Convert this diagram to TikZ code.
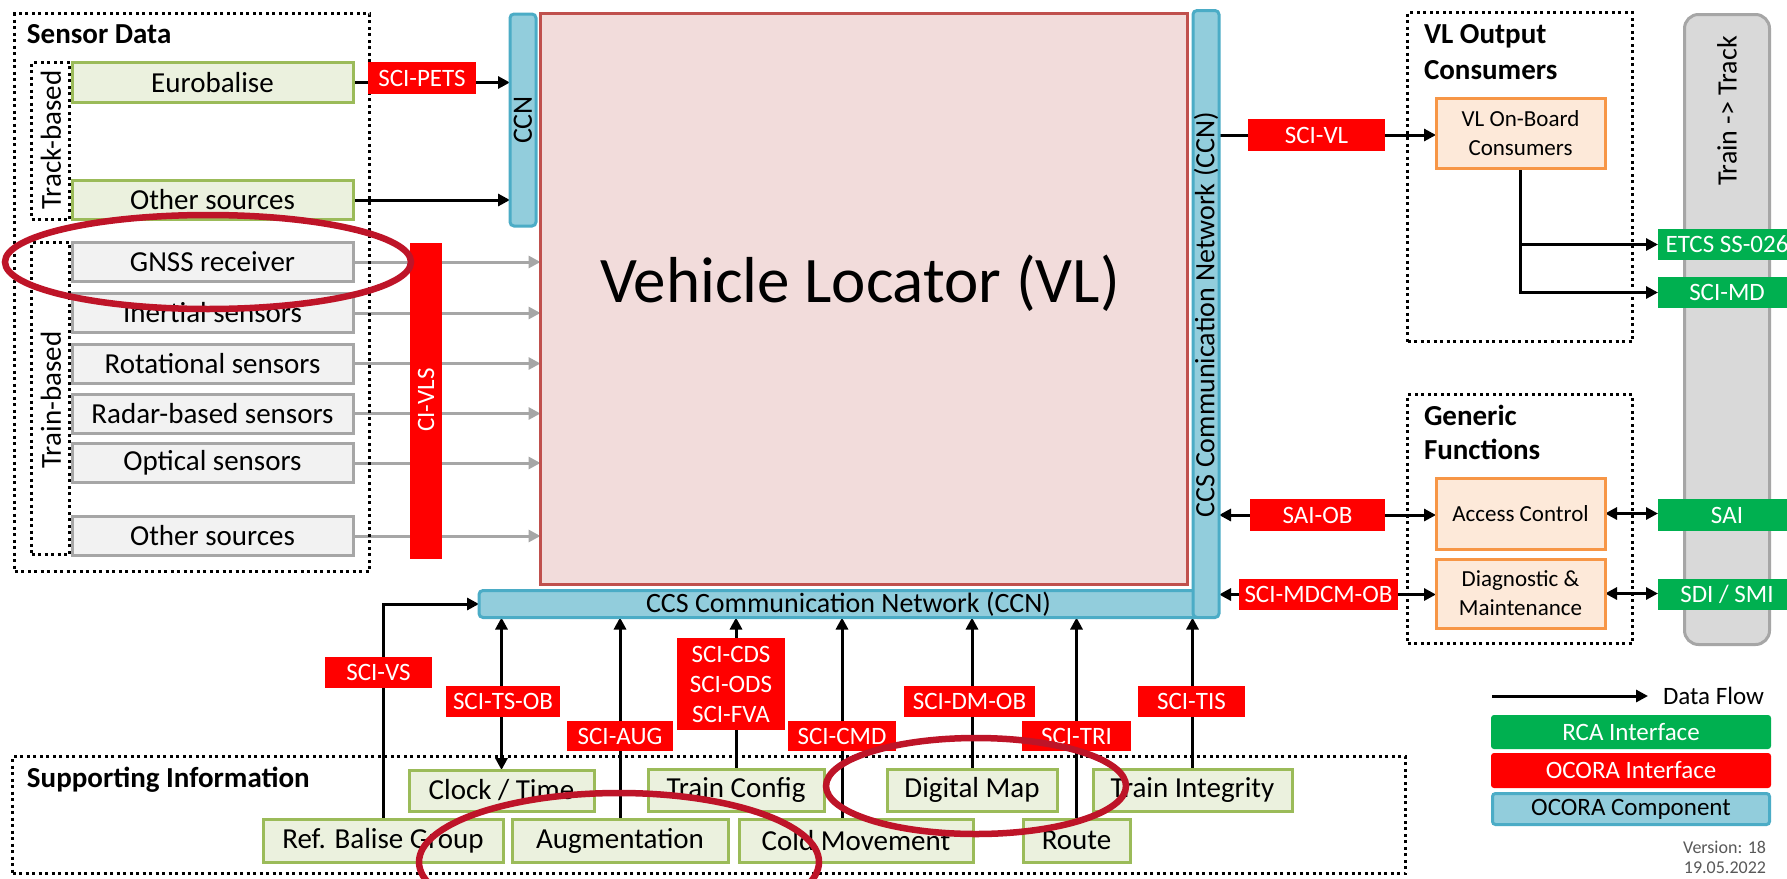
\documentclass[tikz,border=0pt]{standalone}
\usepackage{fontspec}
\setmainfont{Carlito}
\usetikzlibrary{arrows.meta,calc}
\pgfdeclarelayer{bg}
\pgfsetlayers{bg,main}
\definecolor{gB}{HTML}{9BBB59}
\definecolor{gF}{HTML}{EBF1DE}
\definecolor{sB}{HTML}{A6A6A6}
\definecolor{sF}{HTML}{F2F2F2}
\definecolor{ocred}{HTML}{FF0000}
\definecolor{rcag}{HTML}{00B050}
\definecolor{cF}{HTML}{92CDDC}
\definecolor{cB}{HTML}{4BACC6}
\definecolor{vlF}{HTML}{F2DCDB}
\definecolor{vlB}{HTML}{C0504D}
\definecolor{oB}{HTML}{F79646}
\definecolor{oF}{HTML}{FDE9D9}
\definecolor{ttF}{HTML}{D9D9D9}
\definecolor{ttB}{HTML}{A6A6A6}
\definecolor{annotc}{HTML}{BE1428}
\definecolor{verc}{HTML}{595959}
\newcommand\fsBox{\fontsize{29}{30}\selectfont}
\newcommand\fsLab{\fontsize{25}{30}\selectfont}
\newcommand\fsTitle{\bfseries\fontsize{29}{36}\selectfont}
\newcommand\fsOr{\fontsize{23}{29}\selectfont}
\newcommand\fsVL{\fontsize{65}{70}\selectfont}
\newcommand\fsCCN{\fontsize{28}{30}\selectfont}
\newcommand\fsVer{\fontsize{18}{20}\selectfont}
\tikzset{
  every node/.style={inner sep=0pt, outer sep=0pt},
  gbox/.style={draw=gB, fill=gF, line width=3pt, font=\fsBox},
  sbox/.style={draw=sB, fill=sF, line width=3pt, font=\fsBox, minimum width=281pt, minimum height=39pt},
  rlab/.style={fill=ocred, text=white, font=\fsLab, minimum height=31pt},
  glab/.style={fill=rcag, text=white, font=\fsLab, minimum height=31pt},
  obox/.style={draw=oB, fill=oF, line width=3pt, font=\fsOr, align=center, minimum width=169pt},
  ccnbar/.style={draw=cB, fill=cF, line width=3pt, rounded corners=4pt},
  dotbox/.style={draw=black, line width=3pt, dash pattern=on 3pt off 3.5pt},
  arr/.style={line width=3pt, -{Triangle[length=12pt,width=12pt]}},
  darr/.style={line width=3pt, {Triangle[length=12pt,width=12pt]}-{Triangle[length=12pt,width=12pt]}},
  garr/.style={line width=3pt, draw=sB, -{Triangle[length=12pt,width=12pt]}},
  annot/.style={draw=annotc, line width=6.5pt},
  ttl/.style={font=\fsTitle, anchor=base west},
}
\begin{document}
\begin{tikzpicture}[x=1pt,y=-1pt]
\clip (0,0) rectangle (1787,878);
\begin{pgfonlayer}{bg}
\fill[white] (0,0) rectangle (1787,878);
\end{pgfonlayer}

% dotted group boxes
\node[dotbox, minimum width=355pt, minimum height=558pt] (sensbox) at (192,292.5) {};
\node[dotbox, minimum width=38pt, minimum height=157pt] (trkbox) at (50.5,141) {};
\node[dotbox, minimum width=38pt, minimum height=312pt] (trnbox) at (50.5,398.5) {};
\node[dotbox, minimum width=225pt, minimum height=329pt] (vloutbox) at (1520,177) {};
\node[dotbox, minimum width=225pt, minimum height=249pt] (genbox) at (1520,519) {};
\node[dotbox, minimum width=1393pt, minimum height=117pt] (supbox) at (709,815) {};

% titles
\node[ttl] (tsens) at (27,43) {Sensor Data};
\node[ttl] (tvlo1) at (1424,43) {VL Output};
\node[ttl] (tvlo2) at (1424,79) {Consumers};
\node[ttl] (tgen1) at (1424,425) {Generic};
\node[ttl] (tgen2) at (1424,459) {Functions};
\node[ttl] (tsup) at (27,787) {Supporting Information};
\node[font=\fsBox, rotate=90] (ttrk) at (51,140) {Track-based};
\node[font=\fsBox, rotate=90] (ttrn) at (51,400) {Train-based};

% Train -> Track
\node[draw=ttB, fill=ttF, line width=3pt, rounded corners=14pt, minimum width=85pt, minimum height=630pt] (t2t) at (1727,329.5) {};
\node[font=\fsCCN, rotate=90] (t2ttxt) at (1727,111) {Train -> Track};

% sensor boxes
\node[gbox, minimum width=281pt, minimum height=40pt] (eurob) at (212.5,82.5) {Eurobalise};
\node[gbox, minimum width=281pt, minimum height=39pt] (othtrk) at (212.5,200) {Other sources};
\node[sbox] (gnss) at (212.5,262) {GNSS receiver};
\node[sbox] (inert) at (212.5,313) {Inertial sensors};
\node[sbox] (rot) at (212.5,363.5) {Rotational sensors};
\node[sbox] (radar) at (212.5,413.5) {Radar-based sensors};
\node[sbox] (opt) at (212.5,463) {Optical sensors};
\node[sbox] (othtrn) at (212.5,536) {Other sources};

% VL and CCN
\node[draw=vlB, fill=vlF, line width=3pt, minimum width=647pt, minimum height=571pt] (vl) at (864,299) {};
\node[font=\fsVL, anchor=base] (vltxt) at (860,302) {Vehicle Locator (VL)};
\node[ccnbar, minimum width=26pt, minimum height=212pt] (ccnl) at (523,120) {};
\node[font=\fsCCN, rotate=90] (ccnltxt) at (523,120) {CCN};
\node[ccnbar, minimum width=720pt, minimum height=27pt] (hccn) at (839,604) {};
\node[font=\fsCCN] (hccntxt) at (848.5,604) {CCS Communication Network (CCN)};
\node[ccnbar, minimum width=26pt, minimum height=607pt] (rccn) at (1206,314) {};
\node[font=\fsCCN, rotate=90] (rccntxt) at (1206,314.5) {CCS Communication Network (CCN)};

% orange boxes
\node[obox, minimum height=70pt] (vlob) at (1520.5,133) {VL On-Board\\Consumers};
\node[obox, minimum height=71pt] (access) at (1520.5,513.5) {Access Control};
\node[obox, minimum height=69pt] (diag) at (1520.5,593.5) {Diagnostic \&\\Maintenance};

% supporting information boxes
\node[gbox, minimum width=185pt, minimum height=41pt] (clock) at (501.5,790.5) {Clock / Time};
\node[gbox, minimum width=176pt, minimum height=42pt] (trconf) at (736,790) {Train Config};
\node[gbox, minimum width=170pt, minimum height=42pt] (digmap) at (972,790) {Digital Map};
\node[gbox, minimum width=199pt, minimum height=42pt] (trint) at (1192.5,790) {Train Integrity};
\node[gbox, minimum width=240pt, minimum height=43pt] (refbal) at (383,840.5) {Ref. Balise Group};
\node[gbox, minimum width=216pt, minimum height=43pt] (augm) at (620,840.5) {Augmentation};
\node[gbox, minimum width=234pt, minimum height=43pt] (cold) at (856,840.5) {Cold Movement};
\node[gbox, minimum width=107pt, minimum height=43pt] (route) at (1076.5,840.5) {Route};

% interface labels (red)
\node[rlab, minimum width=108pt, minimum height=32pt] (scipets) at (422,78) {SCI-PETS};
\node[rlab, minimum width=137pt, minimum height=32pt] (scivl) at (1316.5,135) {SCI-VL};
\node[rlab, minimum width=135pt, minimum height=32pt] (saiob) at (1317.5,515) {SAI-OB};
\node[rlab, minimum width=159pt] (mdcm) at (1318.5,594.5) {SCI-MDCM-OB};
\node[rlab, minimum width=107pt] (scivs) at (378.5,672.5) {SCI-VS};
\node[rlab, minimum width=114pt] (tsob) at (503,701.5) {SCI-TS-OB};
\node[rlab, minimum width=106pt, minimum height=30pt] (aug) at (620,736) {SCI-AUG};
\node[rlab, align=center, minimum width=108pt, minimum height=92pt] (cds) at (731,684) {SCI-CDS\\SCI-ODS\\SCI-FVA};
\node[rlab, minimum width=108pt, minimum height=30pt] (cmd) at (842,736) {SCI-CMD};
\node[rlab, minimum width=131pt] (dmob) at (969.5,701.5) {SCI-DM-OB};
\node[rlab, minimum width=109pt, minimum height=30pt] (tri) at (1076.5,736) {SCI-TRI};
\node[rlab, minimum width=107pt] (tis) at (1191.5,701.5) {SCI-TIS};
\node[rlab, minimum width=32pt, minimum height=316pt] (civls) at (426,401) {};
\node[font=\fsLab, text=white, rotate=90] (civlstxt) at (426,400) {CI-VLS};

% interface labels (green)
\node[glab, minimum width=138pt] (etcs) at (1727,244.5) {ETCS SS-026};
\node[glab, minimum width=138pt] (scimd) at (1727,292.5) {SCI-MD};
\node[glab, minimum width=138pt, minimum height=32pt] (sai) at (1727,515) {SAI};
\node[glab, minimum width=138pt] (sdi) at (1727,594.5) {SDI / SMI};

% legend
\node[font=\fsLab, anchor=west] (dftxt) at (1663,696) {Data Flow};
\coordinate (dfstart) at (1492,696);
\node[glab, minimum width=280pt, minimum height=34pt, rounded corners=3pt] (rca) at (1631,732) {RCA Interface};
\node[rlab, minimum width=280pt, minimum height=35pt, rounded corners=3pt] (ocif) at (1631,770.5) {OCORA Interface};
\node[ccnbar, font=\fsLab, minimum width=277pt, minimum height=31pt, rounded corners=3pt] (occomp) at (1631,809) {OCORA Component};
\node[font=\fsVer, text=verc, anchor=east, align=right] (ver) at (1766,857) {Version: 18\\19.05.2022};

% connectors (behind the labels)
\begin{pgfonlayer}{bg}
\draw[arr] (eurob.east) -- (eurob.east -| ccnl.west);
\draw[arr] (othtrk.east) -- (othtrk.east -| ccnl.west);
\foreach \s in {gnss,inert,rot,radar,opt,othtrn}
  \draw[garr] (\s.east) -- (\s.east -| vl.west);
\draw[arr] (scivl -| rccn.east) -- (scivl -| vlob.west);
\draw[darr] (saiob -| rccn.east) -- (saiob -| access.west);
\draw[darr] (mdcm -| rccn.east) -- (mdcm -| diag.west);
\draw[darr] (access.east) -- (access.east -| sai.west);
\draw[darr] (diag.east) -- (diag.east -| sdi.west);
\draw[arr] (vlob.south) |- (scimd.west);
\draw[arr] (vlob.south |- etcs.west) -- (etcs.west);
\draw[arr] (refbal.north) |- (hccn.west);
\draw[darr] (clock.north) -- (clock.north |- hccn.south);
\draw[arr] (augm.north) -- (augm.north |- hccn.south);
\draw[arr] (trconf.north) -- (trconf.north |- hccn.south);
\draw[arr] (cmd |- cold.north) -- (cmd |- hccn.south);
\draw[arr] (digmap.north) -- (digmap.north |- hccn.south);
\draw[arr] (route.north) -- (route.north |- hccn.south);
\draw[arr] (trint.north) -- (trint.north |- rccn.south);
\draw[arr] (dfstart) -- ([xshift=-15pt]dftxt.west);
\end{pgfonlayer}

% annotation ellipses
\draw[annot] (208,262) ellipse [x radius=203, y radius=47];
\draw[annot] (619,862) ellipse [x radius=200, y radius=69];
\draw[annot] (976,786) ellipse [x radius=150, y radius=48];
\end{tikzpicture}
\end{document}
